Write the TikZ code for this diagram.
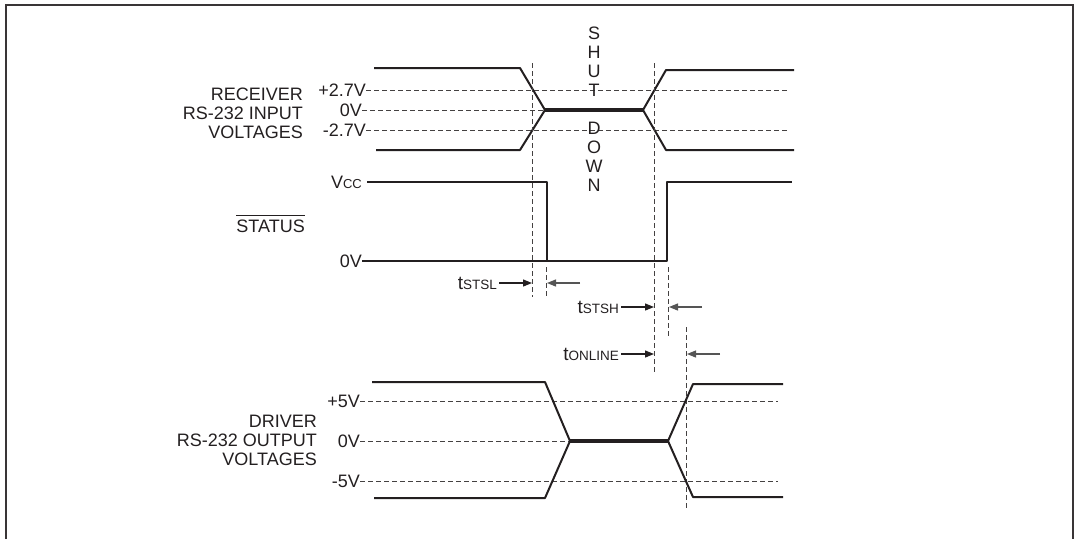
\documentclass[tikz,border=0pt]{standalone}
\usepackage{fontspec}
\setmainfont{Liberation Sans}
\usetikzlibrary{arrows.meta}
\definecolor{ink}{HTML}{231F20}
\definecolor{inkgray}{HTML}{555555}
\newcommand{\tsub}[1]{{\fontsize{19}{19}\selectfont t}{\fontsize{13.5}{14}\selectfont #1}}
\begin{document}
\begin{tikzpicture}[x=1pt,y=-1pt,
  frame/.style={draw=ink!90,line width=1.5pt},
  sig/.style={draw=ink,line width=2pt,line join=round},
  thk/.style={draw=ink,line width=4pt},
  thin/.style={draw=ink,line width=1.3pt},
  lvl/.style={draw=ink!85,line width=1pt,dash pattern=on 5pt off 3pt},
  vdash/.style={draw=ink!85,line width=1pt,dash pattern=on 5pt off 3pt},
  lab/.style={font=\fontsize{18}{19}\selectfont,text=ink,inner sep=0pt},
  tip/.style={draw=ink,line width=1.2pt,-{Triangle[length=9pt,width=7pt]}},
  tipr/.style={draw=inkgray,line width=1.2pt,-{Triangle[length=9pt,width=7pt]}}]
\useasboundingbox (0,0) rectangle (1074,539);
\draw[frame] (6,539) -- (6,5) -- (1073,5) -- (1073,539);

% ---------- Receiver ----------
\node[lab,anchor=east,align=right] (rxlab) at (303,113) {RECEIVER\\RS-232 INPUT\\VOLTAGES};
\node[lab,anchor=east] (rp) at (366,90) {+2.7V};
\node[lab,anchor=east] (rz) at (362,110) {0V};
\node[lab,anchor=east] (rn) at (366,130) {-2.7V};
\coordinate (rpe) at (788,90);
\coordinate (rze) at (545,110);
\coordinate (rne) at (788,130);
\draw[lvl] (rp.east) -- (rpe);
\draw[lvl] (rz.east) -- (rze);
\draw[lvl] (rn.east) -- (rne);
\draw[sig] (374,68) -- (520,68) -- (545,110) -- (643,110) -- (666,70) -- (794,70);
\draw[sig] (376,150) -- (520,150) -- (545,110) -- (643,110) -- (666,150) -- (794,150);
\draw[thk] (545,110) -- (643,110);

% SHUT DOWN
\node[lab,align=center] (shut) at (594,61.5) {S\\H\\U\\T};
\node[lab,align=center] (down) at (594,156.5) {D\\O\\W\\N};

% ---------- long dashed verticals ----------
\draw[vdash] (532,63) -- (532,297);
\draw[vdash] (654,63) -- (654,372);

% ---------- STATUS ----------
\node[lab,anchor=east] (vcc) at (362,182) {V{\fontsize{13}{13}\selectfont CC}};
\node[lab,anchor=east] (sz) at (362,261) {0V};
\node[lab,anchor=east] (status) at (305,226) {STATUS};
\draw[draw=ink,line width=1.2pt] ([yshift=4pt]status.north west) -- ([yshift=4pt]status.north east);
\coordinate (szd) at (547,261);
\draw[thin] (sz.east) -- (szd);
\draw[sig] (367,182) -- (547,182) -- (547,261) -- (667,261) -- (667,182) -- (792,182);

\draw[vdash] (546,267) -- (546,297);
\draw[vdash] (668,267) -- (668,337);
\draw[vdash] (686,327) -- (686,510);

% ---------- timing labels ----------
\node[lab,anchor=east,inner sep=2pt] (tstsl) at (499,283) {\tsub{STSL}};
\coordinate (a1) at (532,283);
\coordinate (b1s) at (580,283);
\coordinate (b1) at (547,283);
\draw[tip] (tstsl.east) -- (a1);
\draw[tipr] (b1s) -- (b1);

\node[lab,anchor=east,inner sep=2pt] (tstsh) at (621,307) {\tsub{STSH}};
\coordinate (a2) at (654,307);
\coordinate (b2s) at (702,307);
\coordinate (b2) at (669,307);
\draw[tip] (tstsh.east) -- (a2);
\draw[tipr] (b2s) -- (b2);

\node[lab,anchor=east,inner sep=2pt] (tonl) at (621,354) {\tsub{ONLINE}};
\coordinate (a3) at (654,354);
\coordinate (b3s) at (720,354);
\coordinate (b3) at (687,354);
\draw[tip] (tonl.east) -- (a3);
\draw[tipr] (b3s) -- (b3);

% ---------- Driver ----------
\node[lab,anchor=east,align=right] (txlab) at (317,440.5) {DRIVER\\RS-232 OUTPUT\\VOLTAGES};
\node[lab,anchor=east] (dp) at (360,401) {+5V};
\node[lab,anchor=east] (dz) at (360,441) {0V};
\node[lab,anchor=east] (dn) at (360,481) {-5V};
\coordinate (dpe) at (778,401);
\coordinate (dze) at (570,441);
\coordinate (dne) at (778,481);
\draw[lvl] (dp.east) -- (dpe);
\draw[lvl] (dz.east) -- (dze);
\draw[lvl] (dn.east) -- (dne);
\draw[sig] (372,382) -- (545,382) -- (570,441) -- (668,441) -- (693,384) -- (783,384);
\draw[sig] (374,498) -- (545,498) -- (570,441) -- (668,441) -- (693,497) -- (783,497);
\draw[thk] (570,441) -- (668,441);
\end{tikzpicture}
\end{document}
